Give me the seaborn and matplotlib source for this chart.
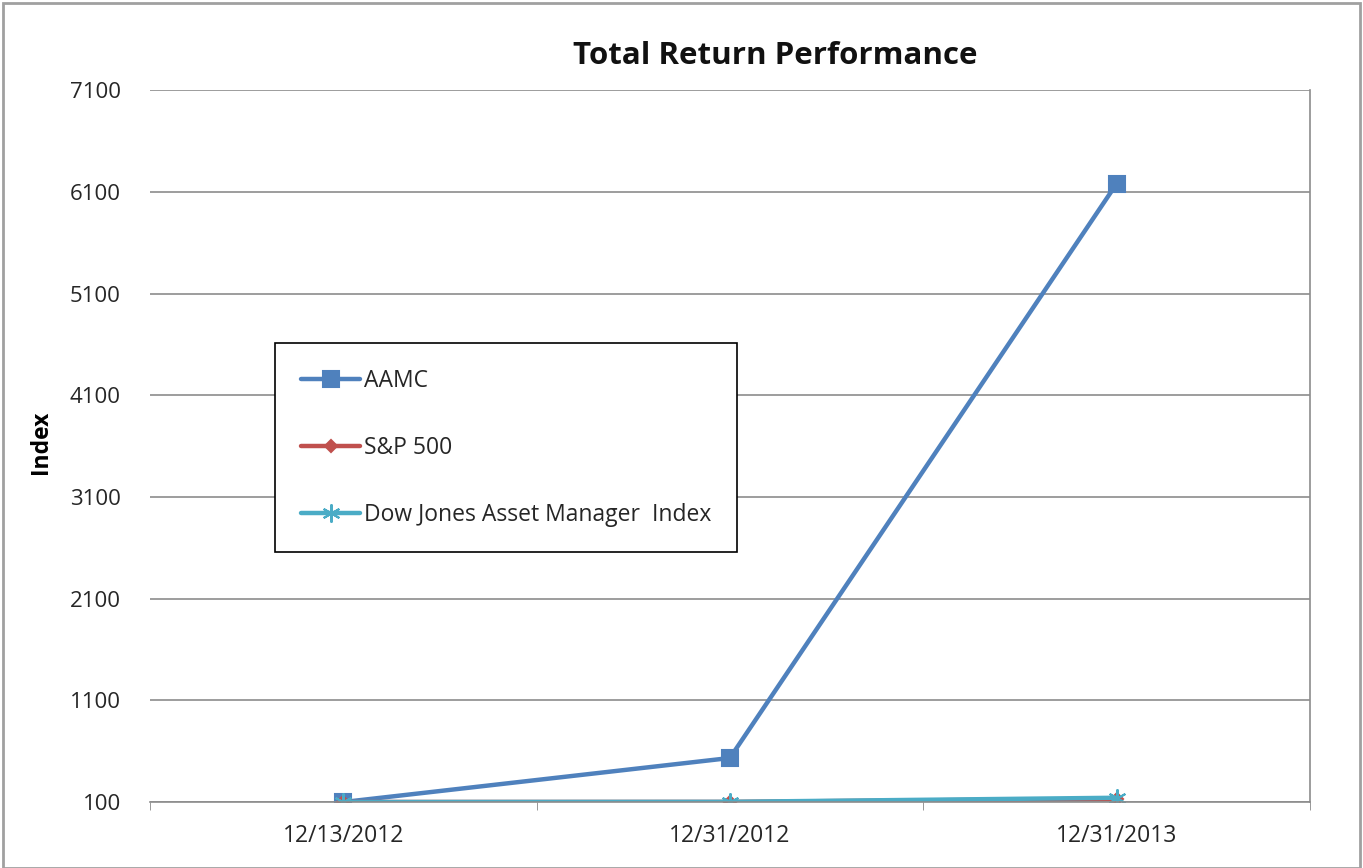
import matplotlib
matplotlib.use("Agg")
import matplotlib.pyplot as plt
import seaborn as sns
import pandas as pd
from matplotlib.patches import Rectangle

dates = ["12/13/2012", "12/31/2012", "12/31/2013"]
aamc = [100, 533, 6180]
sp500 = [100, 101, 132]
dj_am = [100, 102, 142]
series_names = ["AAMC", "S&P 500", "Dow Jones Asset Manager  Index"]
yticks = [100, 1100, 2100, 3100, 4100, 5100, 6100, 7100]

colors = {"AAMC": "#4F81BD", "S&P 500": "#C0504D", "Dow Jones Asset Manager  Index": "#4BACC6"}
markers = {"AAMC": "s", "S&P 500": "D", "Dow Jones Asset Manager  Index": (6, 2, 0)}
msizes = {"AAMC": 11, "S&P 500": 6, "Dow Jones Asset Manager  Index": 13}

df = pd.concat([
    pd.DataFrame({"date": dates, "value": aamc, "series": series_names[0]}),
    pd.DataFrame({"date": dates, "value": sp500, "series": series_names[1]}),
    pd.DataFrame({"date": dates, "value": dj_am, "series": series_names[2]}),
])

sns.set_style("white")
plt.rcParams["font.family"] = ["Open Sans", "DejaVu Sans"]

fig = plt.figure(figsize=(13.63, 8.68), dpi=100)
ax = fig.add_axes([0.110, 0.076, 0.851, 0.820])

for name in series_names:
    sub = df[df["series"] == name]
    sns.lineplot(data=sub, x="date", y="value", ax=ax, color=colors[name], linewidth=3.2,
                 marker=markers[name], markersize=msizes[name], markeredgecolor=colors[name],
                 markeredgewidth=1.5, label=name, sort=False)

txt_color = "#262626"
ax.set_xlim(-0.5, 2.5)
ax.set_ylim(100, 7100)
ax.set_yticks(yticks)
ax.set_yticklabels([str(v) for v in yticks], fontsize=16, color=txt_color)
ax.set_xticks([0, 1, 2])
ax.set_xticklabels(dates, fontsize=16.5, color=txt_color)
ax.set_xticks([-0.5, 0.5, 1.5, 2.5], minor=True)
ax.tick_params(axis="x", which="major", length=0, pad=16)
ax.tick_params(axis="x", which="minor", length=6, color="#888888", direction="out", bottom=True)
ax.tick_params(axis="y", length=0, pad=21)
ax.yaxis.grid(True, color="#8c8c8c", linewidth=1.2)
ax.set_axisbelow(True)

for s in ["top", "left"]:
    ax.spines[s].set_visible(False)
ax.spines["right"].set_color("#8c8c8c")
ax.spines["bottom"].set_color("#8c8c8c")
ax.spines["right"].set_linewidth(1.2)
ax.spines["bottom"].set_linewidth(1.2)

ax.set_xlabel("")
ax.set_ylabel("Index", fontsize=16.5, fontweight="bold", color="black", va="center")
ax.yaxis.set_label_coords(-0.094, 0.505)
ax.set_title("Total Return Performance", fontsize=22.5, fontweight="bold", pad=19, x=0.539,
             color="#111111")

leg = ax.legend(loc="upper left", bbox_to_anchor=(0.108, 0.645), fontsize=16.5,
                frameon=True, fancybox=False, edgecolor="black", framealpha=1,
                labelspacing=1.88, handlelength=2.6, handletextpad=0.15,
                borderpad=1.12, borderaxespad=0)
leg.get_frame().set_linewidth(1.2)
for t in leg.get_texts():
    t.set_color(txt_color)

fig.patches.append(Rectangle((0.002, 0.0), 0.996, 0.997, transform=fig.transFigure,
                             fill=False, edgecolor="#a0a0a0", linewidth=2))

fig.savefig("out.png", dpi=100)
